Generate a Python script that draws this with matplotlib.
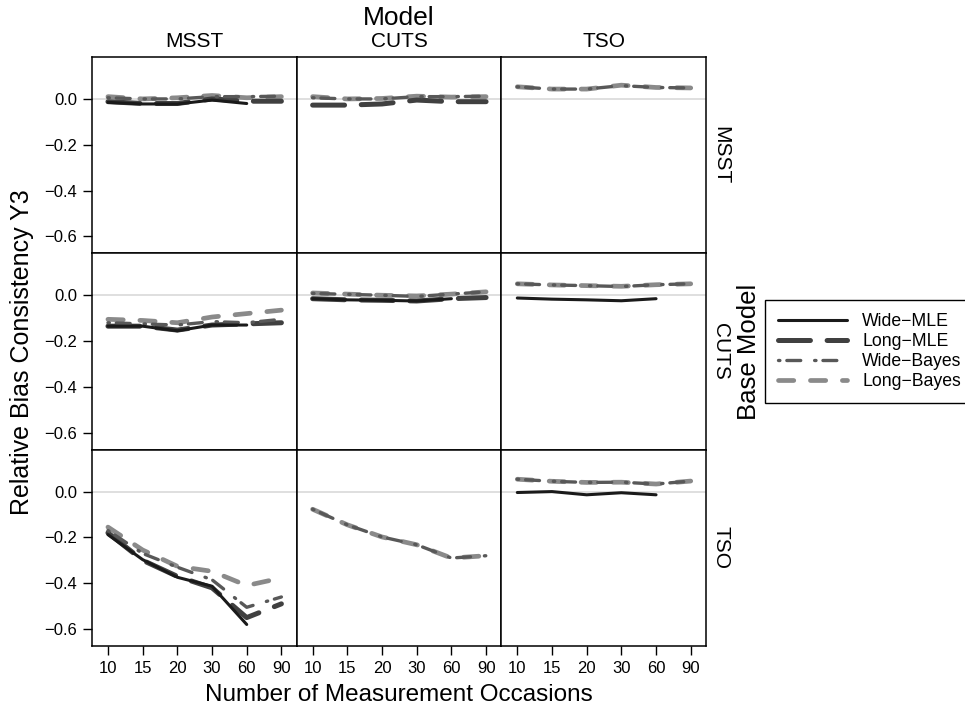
import numpy as np
import matplotlib
matplotlib.use("Agg")
import matplotlib.pyplot as plt

plt.rcParams["font.family"] = ["Liberation Sans", "DejaVu Sans"]
plt.rcParams["lines.scale_dashes"] = False

# === DATA ===
occasions = ["10", "15", "20", "30", "60", "90"]
models = ["MSST", "CUTS", "TSO"]       # columns
bases = ["MSST", "CUTS", "TSO"]        # rows
nan = np.nan

# keyed by (base, model); nan = not estimated
wide_mle = {
    ("MSST", "MSST"): [-0.015, -0.022, -0.022, -0.005, -0.02, nan],
    ("MSST", "CUTS"): [nan] * 6,
    ("MSST", "TSO"): [nan] * 6,
    ("CUTS", "MSST"): [-0.135, -0.135, -0.155, -0.13, -0.13, nan],
    ("CUTS", "CUTS"): [-0.015, -0.02, -0.022, -0.025, -0.015, nan],
    ("CUTS", "TSO"): [-0.012, -0.017, -0.02, -0.024, -0.015, nan],
    ("TSO", "MSST"): [-0.188, -0.297, -0.374, -0.413, -0.58, nan],
    ("TSO", "CUTS"): [nan] * 6,
    ("TSO", "TSO"): [-0.004, 0.0, -0.014, -0.005, -0.014, nan],
}
long_mle = {
    ("MSST", "MSST"): [-0.012, -0.02, -0.02, 0.0, -0.01, -0.01],
    ("MSST", "CUTS"): [-0.027, -0.027, -0.022, -0.005, -0.012, -0.012],
    ("MSST", "TSO"): [nan] * 6,
    ("CUTS", "MSST"): [-0.135, -0.135, -0.152, -0.13, -0.125, -0.12],
    ("CUTS", "CUTS"): [-0.015, -0.02, -0.022, -0.025, -0.015, -0.01],
    ("CUTS", "TSO"): [nan] * 6,
    ("TSO", "MSST"): [-0.18, -0.3, -0.37, -0.42, -0.55, -0.49],
    ("TSO", "CUTS"): [nan] * 6,
    ("TSO", "TSO"): [nan] * 6,
}
wide_bayes = {
    ("MSST", "MSST"): [0.005, 0.0, 0.0, 0.01, 0.01, 0.012],
    ("MSST", "CUTS"): [0.005, 0.0, 0.0, 0.01, 0.01, 0.012],
    ("MSST", "TSO"): [0.053, 0.043, 0.043, 0.058, 0.05, 0.048],
    ("CUTS", "MSST"): [-0.12, -0.125, -0.13, -0.115, -0.12, -0.105],
    ("CUTS", "CUTS"): [0.008, 0.004, 0.0, -0.005, 0.005, 0.015],
    ("CUTS", "TSO"): [0.05, 0.045, 0.042, 0.038, 0.046, 0.05],
    ("TSO", "MSST"): [-0.17, -0.27, -0.33, -0.385, -0.505, -0.46],
    ("TSO", "CUTS"): [-0.077, -0.145, -0.198, -0.232, -0.29, -0.28],
    ("TSO", "TSO"): [0.054, 0.045, 0.04, 0.041, 0.033, 0.046],
}
long_bayes = {
    ("MSST", "MSST"): [0.01, 0.0, 0.005, 0.015, 0.005, 0.01],
    ("MSST", "CUTS"): [0.01, 0.0, 0.002, 0.012, 0.008, 0.01],
    ("MSST", "TSO"): [0.053, 0.043, 0.043, 0.06, 0.05, 0.048],
    ("CUTS", "MSST"): [-0.105, -0.11, -0.12, -0.095, -0.08, -0.065],
    ("CUTS", "CUTS"): [0.01, 0.005, 0.0, -0.003, 0.005, 0.015],
    ("CUTS", "TSO"): [0.05, 0.045, 0.042, 0.039, 0.046, 0.05],
    ("TSO", "MSST"): [-0.155, -0.255, -0.326, -0.348, -0.41, -0.377],
    ("TSO", "CUTS"): [-0.077, -0.145, -0.198, -0.232, -0.29, -0.28],
    ("TSO", "TSO"): [0.054, 0.045, 0.04, 0.041, 0.033, 0.046],
}
y_ticks = [0.0, -0.2, -0.4, -0.6]

# === STYLES ===
series = [
    ("Long\u2212Bayes", long_bayes, dict(color="#8a8a8a", lw=3.4, dashes=(11, 12))),
    ("Long\u2212MLE", long_mle, dict(color="#404040", lw=3.6, dashes=(23, 12))),
    ("Wide\u2212Bayes", wide_bayes, dict(color="#585858", lw=2.4, dashes=(1, 5, 10, 10))),
    ("Wide\u2212MLE", wide_mle, dict(color="#1a1a1a", lw=2.2)),
]

W, H = 965, 712
fig = plt.figure(figsize=(W / 100, H / 100), dpi=100)

left, right, top, bottom = 92, 706, 57, 646
pw = (right - left) / 3
ph = (bottom - top) / 3
x = np.arange(1, len(occasions) + 1)

handles = {}
for r, base in enumerate(bases):
    for c, model in enumerate(models):
        ax = fig.add_axes([(left + c * pw) / W, 1 - (top + (r + 1) * ph) / H, pw / W, ph / H])
        ax.axhline(0, color="#d9d9d9", lw=1.2, zorder=1)
        for name, data, st in series:
            ln, = ax.plot(x, data[(base, model)], solid_capstyle="round",
                          dash_capstyle="round", zorder=2, **st)
            handles[name] = ln
        ax.set_xlim(0.54, 6.44)
        ax.set_ylim(-0.674, 0.183)
        for s in ax.spines.values():
            s.set_linewidth(1.1)
        ax.set_xticks(x)
        ax.set_yticks(y_ticks)
        ax.tick_params(length=6.5, width=1, labelsize=12, pad=4)
        if r == 2:
            ax.set_xticklabels(occasions)
        else:
            ax.tick_params(axis="x", bottom=False, labelbottom=False)
        if c == 0:
            ax.set_yticklabels(["0.0", "\u22120.2", "\u22120.4", "\u22120.6"])
        else:
            ax.tick_params(axis="y", left=False, labelleft=False)
        if r == 0:
            ax.text(0.5, 1 + 15 / ph, model, transform=ax.transAxes,
                    ha="center", va="center", fontsize=15)
        if c == 2:
            ax.text(1 + 15 / pw, 0.5, base, transform=ax.transAxes, rotation=270,
                    ha="center", va="center", fontsize=15)

fig.text((left + right) / 2 / W, 1 - 18 / H, "Model", ha="center", va="center", fontsize=19)
fig.text(749 / W, 1 - 352 / H, "Base Model", ha="center", va="center", rotation=90, fontsize=18.5)
fig.text(22 / W, 1 - 352 / H, "Relative Bias Consistency Y3", ha="center", va="center",
         rotation=90, fontsize=18)
fig.text((left + right) / 2 / W, 1 - 695 / H, "Number of Measurement Occasions",
         ha="center", va="center", fontsize=17.5)

order = ["Wide\u2212MLE", "Long\u2212MLE", "Wide\u2212Bayes", "Long\u2212Bayes"]
leg = fig.legend([handles[n] for n in order], order, loc="upper left",
                 bbox_to_anchor=(765 / W, 1 - 300 / H), fontsize=12.7,
                 handlelength=3.9, handletextpad=0.85, labelspacing=0.16,
                 borderpad=0.75, borderaxespad=0, fancybox=False, framealpha=1)
leg.get_frame().set_edgecolor("black")
leg.get_frame().set_linewidth(1.0)

fig.savefig("out.png", dpi=100)
